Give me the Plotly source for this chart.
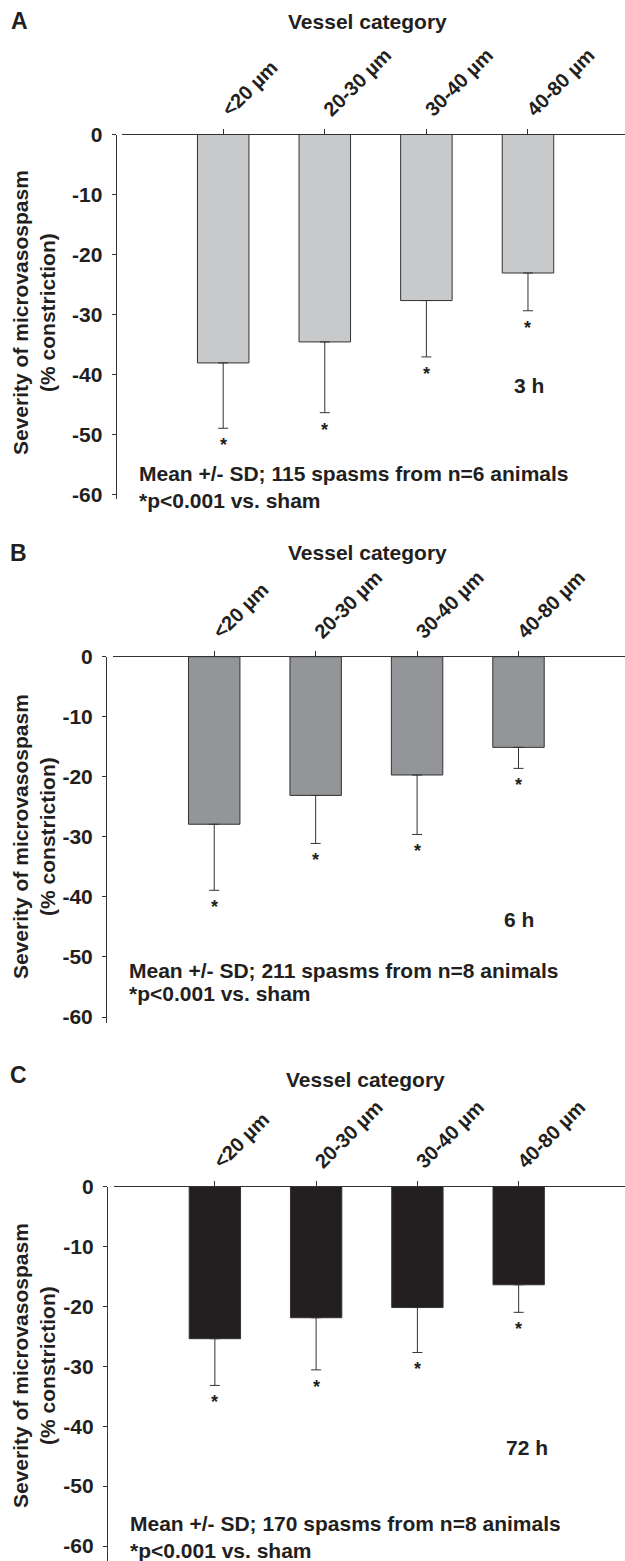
import plotly.graph_objects as go

W, H = 625, 1561

categories = ["<20 µm", "20-30 µm", "30-40 µm", "40-80 µm"]
a_mean = [-38.1, -34.6, -27.7, -23.1]
a_sd = [10.9, 11.8, 9.4, 6.3]
b_mean = [-27.9, -23.1, -19.7, -15.1]
b_sd = [11.0, 8.0, 9.9, 3.5]
c_mean = [-25.4, -21.9, -20.2, -16.4]
c_sd = [7.8, 8.7, 7.5, 4.6]
y_tickvals = [0, -10, -20, -30, -40, -50, -60]
y_ticktext = ["0", "-10", "-20", "-30", "-40", "-50", "-60"]

FONT = "Liberation Sans, Arial, sans-serif"
DARK = "#333333"
TXT = "#231f20"


def px(x):
    return x / W


def py(y):
    return 1 - y / H


panels = [
    dict(letter="A", mean=a_mean, sd=a_sd, fill="#c8c9cb", time="3 h",
         note="Mean +/- SD; 115 spasms from n=6 animals",
         y0=134.5, y1=499.0, yr=-60.8, xl=121.6, yx=115.6, xr=[-1, 3.955],
         letter_xy=(19, 21), vc_xy=(367, 21), time_xy=(529, 385),
         note_xy=(137, 473), p_xy=(137, 500), ytitle_xy=(34, 313)),
    dict(letter="B", mean=b_mean, sd=b_sd, fill="#939598", time="6 h",
         note="Mean +/- SD; 211 spasms from n=8 animals",
         y0=656.7, y1=1023.0, yr=-61.0, xl=112.8, yx=106, xr=[-1, 4.05],
         letter_xy=(18, 553), vc_xy=(367, 552), time_xy=(519, 919),
         note_xy=(126.7, 970), p_xy=(126.7, 994), ytitle_xy=(34, 837)),
    dict(letter="C", mean=c_mean, sd=c_sd, fill="#231f20", time="72 h",
         note="Mean +/- SD; 170 spasms from n=8 animals",
         y0=1186.5, y1=1561.0, yr=-62.5, xl=113.6, yx=106.8, xr=[-1, 4.05],
         letter_xy=(18, 1075), vc_xy=(365, 1079), time_xy=(527, 1447),
         note_xy=(128.3, 1523), p_xy=(128.3, 1550), ytitle_xy=(34, 1366)),
]

fig = go.Figure()
annotations = []
layout = {}

for i, p in enumerate(panels):
    n = "" if i == 0 else str(i + 1)
    xa, ya = "x" + n, "y" + n
    fig.add_trace(go.Bar(
        x=list(range(len(categories))), y=p["mean"], width=0.507,
        marker=dict(color=p["fill"], line=dict(color=DARK, width=1)),
        error_y=dict(type="data", symmetric=False, array=[0] * 4,
                     arrayminus=p["sd"], color=DARK, thickness=1, width=5),
        xaxis=xa, yaxis=ya, showlegend=False, hoverinfo="skip",
    ))
    layout["xaxis" + n] = dict(
        domain=[px(p["xl"]), 1], range=p["xr"], anchor=ya, side="top",
        tickvals=list(range(len(categories))), ticktext=categories,
        tickangle=-45, ticks="outside", ticklen=5, tickcolor=DARK,
        showline=True, linecolor=DARK, linewidth=1, showgrid=False,
        zeroline=False, automargin=False,
        tickfont=dict(family=FONT, size=20, color=TXT, weight="bold"),
    )
    layout["yaxis" + n] = dict(
        domain=[py(p["y1"]), py(p["y0"])], range=[p["yr"], 0],
        anchor="free", position=px(p["yx"]),
        tickvals=y_tickvals, ticktext=y_ticktext,
        ticks="outside", ticklen=4, tickcolor=DARK, ticklabelstandoff=5,
        showline=True, linecolor=DARK, linewidth=1, showgrid=False,
        zeroline=False, automargin=False,
        tickfont=dict(family=FONT, size=21, color=TXT, weight="bold"),
    )
    bold = dict(family=FONT, size=21, color=TXT, weight="bold")
    for txt, (x, y), anc, size in [
        (p["letter"], p["letter_xy"], "center", 23),
        ("Vessel category", p["vc_xy"], "center", 21),
        (p["time"], p["time_xy"], "center", 21),
        (p["note"], p["note_xy"], "left", 21),
        ("*p<0.001 vs. sham", p["p_xy"], "left", 21),
    ]:
        f = dict(bold)
        f["size"] = size
        annotations.append(dict(text=txt, x=px(x), y=py(y), xref="paper",
                                yref="paper", xanchor=anc, yanchor="middle",
                                showarrow=False, font=f))
    annotations.append(dict(
        text="Severity of microvasospasm<br>(% constriction)",
        x=px(p["ytitle_xy"][0]), y=py(p["ytitle_xy"][1]), xref="paper",
        yref="paper", xanchor="center", yanchor="middle", textangle=-90,
        showarrow=False, font=bold))
    for k, (m, s) in enumerate(zip(p["mean"], p["sd"])):
        annotations.append(dict(text="*", x=k, y=m - s, xref=xa, yref=ya,
                                xanchor="center", yanchor="top", yshift=-5,
                                showarrow=False,
                                font=dict(family=FONT, size=18, color=TXT,
                                          weight="bold")))

fig.update_layout(
    width=W, height=H, margin=dict(l=0, r=0, t=0, b=0),
    paper_bgcolor="white", plot_bgcolor="white",
    annotations=annotations, **layout,
)

fig.write_html(
    "out.html",
    config={"displayModeBar": False, "staticPlot": True},
    post_script="document.body.style.margin='0';"
                "document.body.style.overflow='hidden';",
)
